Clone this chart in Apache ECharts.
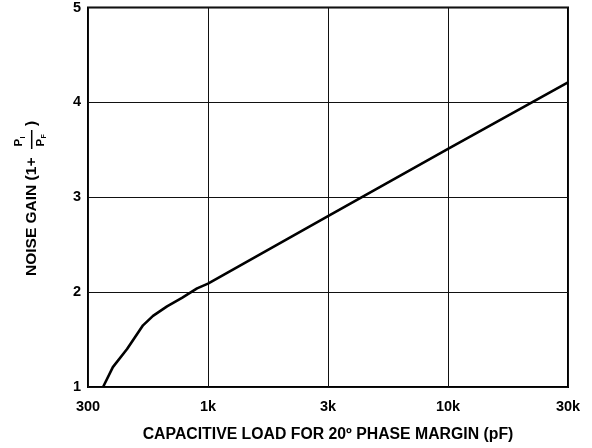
<!DOCTYPE html>
<html>
<head>
<meta charset="utf-8">
<script src="https://cdn.jsdelivr.net/npm/echarts@6/dist/echarts.min.js"></script>
<style>
  html, body { margin: 0; padding: 0; background: #fff; }
  #chart { width: 592px; height: 448px; }
</style>
</head>
<body>
<div id="chart"></div>
<script>
// Capacitive load (pF) vs. noise gain for 20° phase margin
const tickValues = [300, 1000, 3000, 10000, 30000];
const tickLabels = ['300', '1k', '3k', '10k', '30k'];
const capLoad   = [349, 385, 444, 521, 576, 663, 770, 896, 1000, 3000, 10000, 30000];
const noiseGain = [1.00, 1.21, 1.40, 1.65, 1.75, 1.85, 1.94, 2.04, 2.09, 2.80, 3.51, 4.21];
const gainTicks = [1, 2, 3, 4, 5];

// The horizontal axis is logarithmic between equally spaced gridlines
// (300, 1k, 3k, 10k, 30k); place a capacitance between its neighbouring ticks.
function axisPos(c) {
  for (let i = 0; i < tickValues.length - 1; i++) {
    const a = tickValues[i], b = tickValues[i + 1];
    if (c <= b || i === tickValues.length - 2) {
      return i + Math.log(c / a) / Math.log(b / a);
    }
  }
}

const FONT = '"Liberation Sans", Arial, Helvetica, sans-serif';
const seriesData = capLoad.map((c, i) => [axisPos(c), noiseGain[i]]);

function txt(x, y, text, size) {
  return {
    type: 'text', x: x, y: y,
    style: { text: text, font: 'bold ' + size + 'px ' + FONT, fill: '#000',
             align: 'left', verticalAlign: 'middle', textAlign: 'left', textVerticalAlign: 'middle' }
  };
}

const chart = echarts.init(document.getElementById('chart'), null, { renderer: 'canvas' });

chart.setOption({
  animation: false,
  backgroundColor: '#fff',
  grid: {
    left: 88, right: 24, top: 6, bottom: 58,
    show: true, borderColor: '#000', borderWidth: 2, backgroundColor: 'transparent'
  },
  xAxis: {
    type: 'value',
    min: 0, max: tickValues.length - 1, interval: 1,
    axisLine: { show: false },
    axisTick: { show: false },
    splitLine: { show: true, lineStyle: { color: '#111', width: 1 } },
    axisLabel: {
      formatter: v => tickLabels[v] ?? '',
      color: '#000', fontWeight: 'bold', fontSize: 14.5, fontFamily: FONT, margin: 12
    },
    name: 'CAPACITIVE LOAD FOR 20º PHASE MARGIN (pF)',
    nameLocation: 'middle',
    nameGap: 40,
    nameTextStyle: { color: '#000', fontWeight: 'bold', fontSize: 15.8, fontFamily: FONT }
  },
  yAxis: {
    type: 'value',
    min: gainTicks[0], max: gainTicks[gainTicks.length - 1], interval: 1,
    axisLine: { show: false },
    axisTick: { show: false },
    splitLine: { show: true, lineStyle: { color: '#111', width: 1 } },
    axisLabel: {
      color: '#000', fontWeight: 'bold', fontSize: 14.5, fontFamily: FONT, margin: 7
    }
  },
  series: [{
    type: 'line',
    data: seriesData,
    showSymbol: false,
    smooth: false,
    lineStyle: { color: '#000', width: 2.6 },
    z: 5
  }],
  graphic: [{
    // Rotated vertical-axis title with the stacked P_I / P_F fraction
    type: 'group',
    x: 32, y: 276,
    rotation: Math.PI / 2,
    children: [
      txt(0, 0, 'NOISE GAIN (1+', 15.5),
      txt(129.5, -13, 'P', 11.5),
      txt(137.5, -8.5, 'I', 7),
      {
        type: 'line',
        shape: { x1: 127, y1: -0.3, x2: 146, y2: -0.3 },
        style: { stroke: '#000', lineWidth: 1.5 }
      },
      txt(129.5, 9, 'P', 11.5),
      txt(137.5, 12, 'F', 7),
      txt(150, 0, ')', 15.5)
    ]
  }]
});
</script>
</body>
</html>
